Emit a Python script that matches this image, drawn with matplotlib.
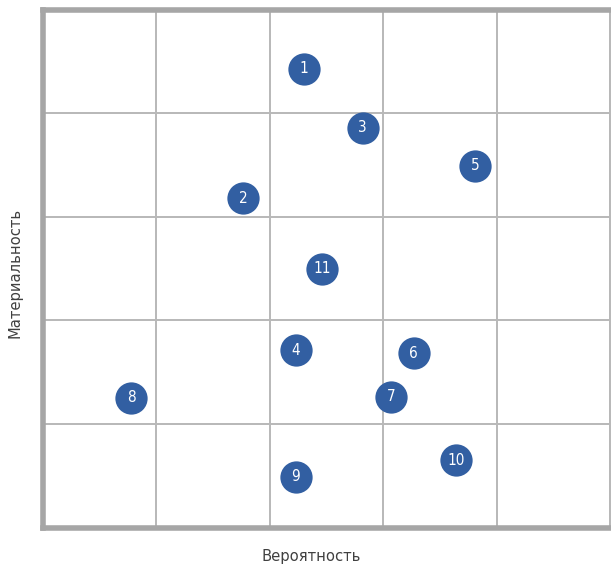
import matplotlib
matplotlib.use("Agg")
import matplotlib.pyplot as plt

labels = ["1", "2", "3", "4", "5", "6", "7", "8", "9", "10", "11"]
prob = [2.30, 1.77, 2.82, 2.23, 3.81, 3.27, 3.07, 0.78, 2.23, 3.64, 2.46]
mat = [4.43, 3.18, 3.86, 1.71, 3.49, 1.68, 1.26, 1.25, 0.49, 0.65, 2.50]
x_label = "Вероятность"
y_label = "Материальность"

W, H = 611, 565
fig = plt.figure(figsize=(W / 100, H / 100), dpi=100)
left, right, top, bottom = 42.5, 610, 9.5, 527.5
ax = fig.add_axes([left / W, 1 - bottom / H, (right - left) / W, (bottom - top) / H])
ax.set_xlim(0, 5)
ax.set_ylim(0, 5)
ax.set_xticks([0, 1, 2, 3, 4, 5])
ax.set_yticks([0, 1, 2, 3, 4, 5])
ax.tick_params(length=0, labelleft=False, labelbottom=False)
ax.grid(True, color="#b8b8b8", linewidth=1.4)
ax.set_axisbelow(True)
for s in ["left", "top", "bottom"]:
    ax.spines[s].set_color("#a6a6a6")
    ax.spines[s].set_linewidth(4)
ax.spines["right"].set_color("#b8b8b8")
ax.spines["right"].set_linewidth(1.4)

ax.scatter(prob, mat, s=540, color="#325fa2", zorder=3, linewidths=0, clip_on=False)
for lb, x, y in zip(labels, prob, mat):
    ax.text(x, y, lb, color="white", fontsize=11, ha="center", va="center",
            fontstretch="condensed", zorder=4)

fig.text(311 / W, 1 - 556 / H, x_label, ha="center", va="center",
         fontsize=11.8, color="#404040", fontstretch="condensed")
fig.text(15 / W, 1 - 273 / H, y_label, ha="center", va="center", rotation=90,
         fontsize=11.8, color="#404040", fontstretch="condensed")

fig.savefig("out.png", dpi=100)
